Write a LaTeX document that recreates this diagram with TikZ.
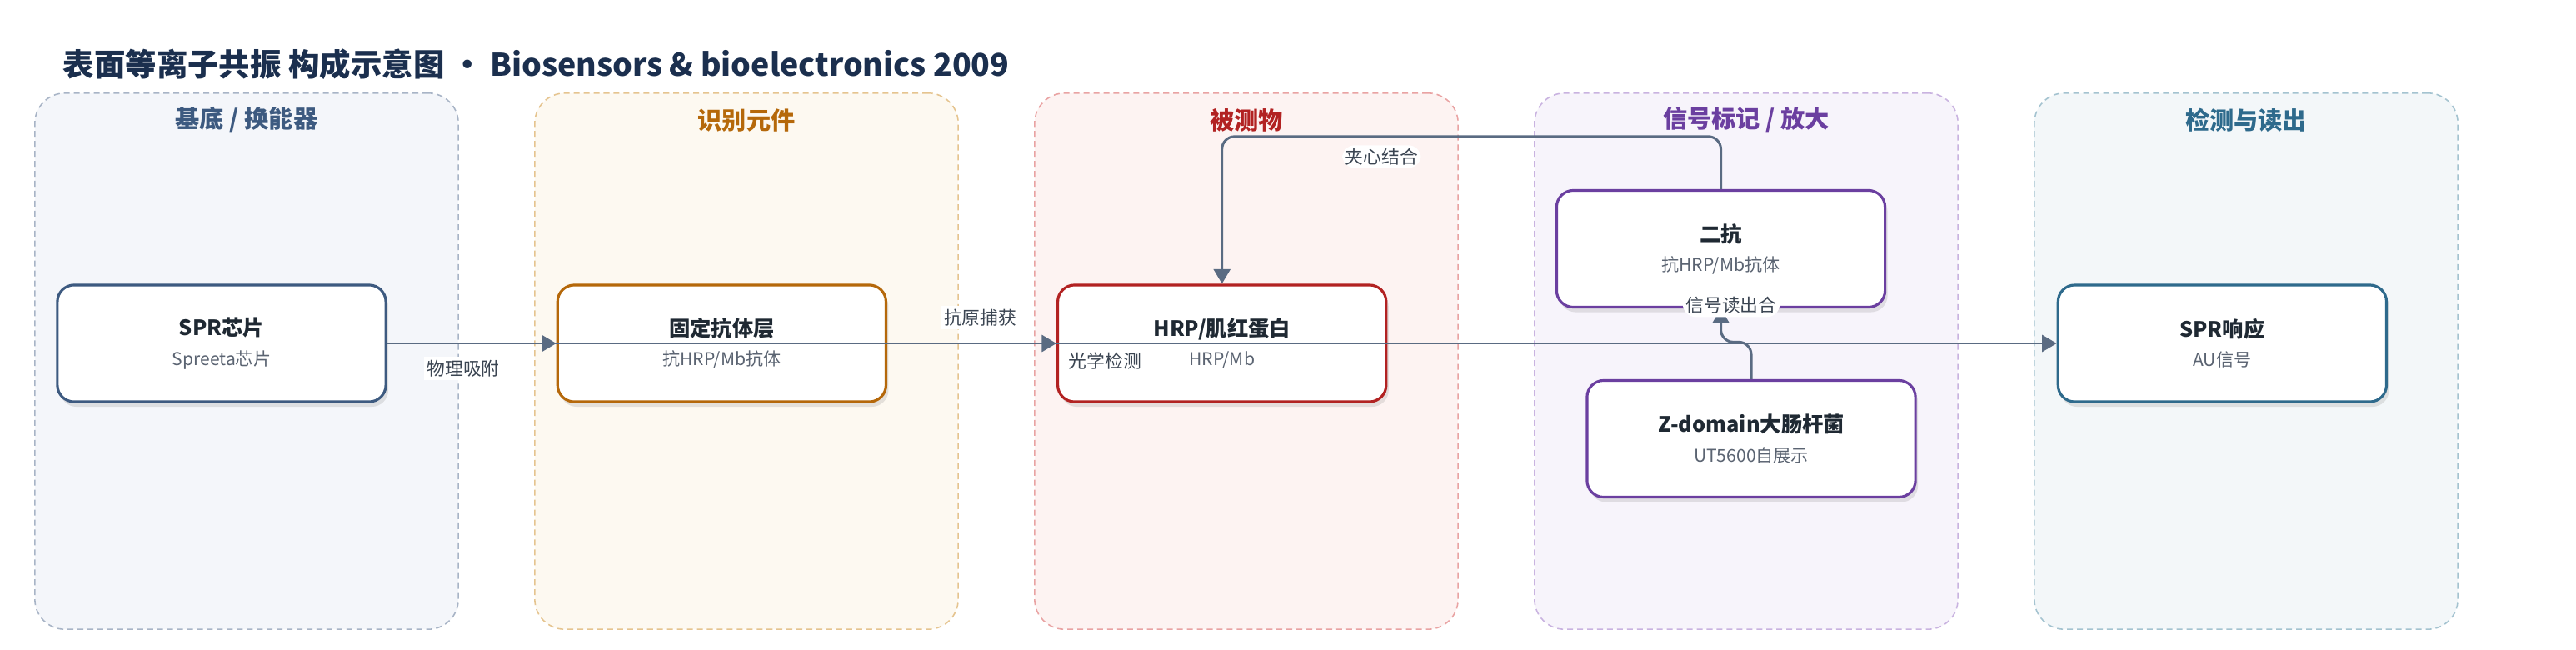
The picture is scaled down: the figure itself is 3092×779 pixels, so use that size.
\documentclass[tikz,border=0pt]{standalone}
\usepackage{fontspec}
\setmainfont{Noto Sans CJK SC}
\usepackage{xcolor}
\usepackage{tikz}
\usetikzlibrary{arrows.meta,shadows}

\definecolor{judulcol}{HTML}{1B2F4E}
\definecolor{inkdark}{HTML}{1F2933}
\definecolor{subgray}{HTML}{5B6472}
\definecolor{labelgray}{HTML}{3B4552}
\definecolor{edgegray}{HTML}{5A6B82}
\definecolor{bg1}{HTML}{F4F6FA}\definecolor{ln1}{HTML}{A8B4C6}\definecolor{tx1}{HTML}{3D5A80}
\definecolor{bg2}{HTML}{FDF9F1}\definecolor{ln2}{HTML}{E5C48F}\definecolor{tx2}{HTML}{B5680A}
\definecolor{bg3}{HTML}{FDF3F2}\definecolor{ln3}{HTML}{E9A3A3}\definecolor{tx3}{HTML}{B22222}
\definecolor{bg4}{HTML}{F7F4FB}\definecolor{ln4}{HTML}{C9B3E0}\definecolor{tx4}{HTML}{6B3FA0}
\definecolor{bg5}{HTML}{F3F7F9}\definecolor{ln5}{HTML}{A4C3D0}\definecolor{tx5}{HTML}{2E6A8C}

\tikzstyle{lane} = [rectangle, rounded corners=0.36cm, minimum width=5.08cm, minimum height=6.43cm, dash pattern=on 2pt off 1.4pt, line width=0.45pt]
\tikzstyle{lanetitle} = [font=\fontsize{8.3}{10}\selectfont\bfseries]
\tikzstyle{squared} = [rectangle, rounded corners=0.2cm, minimum width=3.94cm, minimum height=1.4cm, align=center, fill=white, line width=0.9pt, text=inkdark, font=\fontsize{6}{10}\selectfont, drop shadow={shadow xshift=0.03cm, shadow yshift=-0.06cm, opacity=0.2}]
\tikzstyle{connect} = [line width=0.85pt, draw=edgegray, -{Triangle[length=5pt,width=5.7pt]}]
\tikzstyle{caption} = [fill=white, inner sep=1pt, text=labelgray, font=\fontsize{6.2}{7}\selectfont]

\newcommand{\boxtext}[2]{{\fontsize{7.2}{10}\selectfont\bfseries #1}\\{\color{subgray}#2}}

\begin{document}
\begin{tikzpicture}[node distance=6cm, x=0.01cm, y=-0.01cm]
	\useasboundingbox (0,0) rectangle (3092,779);

	% judul gambar
	\node (judul) [anchor=west, inner sep=0pt, text=judulcol, font=\fontsize{10.65}{12}\selectfont\bfseries] at (75,77) {表面等离子共振 构成示意图 • Biosensors \& bioelectronics 2009};

	% kotak latar tiap kolom
	\node (lane1) [lane, fill=bg1, draw=ln1] at (296,433.5) {};
	\node (lane2) [lane, fill=bg2, draw=ln2] at (896,433.5) {};
	\node (lane3) [lane, fill=bg3, draw=ln3] at (1496,433.5) {};
	\node (lane4) [lane, fill=bg4, draw=ln4] at (2096,433.5) {};
	\node (lane5) [lane, fill=bg5, draw=ln5] at (2696,433.5) {};
	\node (head1) [lanetitle, text=tx1] at ([yshift=-0.33cm]lane1.north) {基底 / 换能器};
	\node (head2) [lanetitle, text=tx2] at ([yshift=-0.33cm]lane2.north) {识别元件};
	\node (head3) [lanetitle, text=tx3] at ([yshift=-0.33cm]lane3.north) {被测物};
	\node (head4) [lanetitle, text=tx4] at ([yshift=-0.33cm]lane4.north) {信号标记 / 放大};
	\node (head5) [lanetitle, text=tx5] at ([yshift=-0.33cm]lane5.north) {检测与读出};

	% node utama
	\node (chip) [squared, draw=tx1] at (266,412) {\boxtext{SPR芯片}{Spreeta芯片}};       % posisi acuan
	\node (ab) [squared, draw=tx2, right of=chip] {\boxtext{固定抗体层}{抗HRP/Mb抗体}};     % di kanan acuan
	\node (hrp) [squared, draw=tx3, right of=ab] {\boxtext{HRP/肌红蛋白}{HRP/Mb}};          % di kanan sebelumnya
	\node (resp) [squared, draw=tx5, right of=hrp, node distance=12cm] {\boxtext{SPR响应}{AU信号}};
	\node (er) [squared, draw=tx4] at (2065.5,298.5) {\boxtext{二抗}{抗HRP/Mb抗体}};
	\node (zd) [squared, draw=tx4] at (2102,526.5) {\boxtext{Z-domain大肠杆菌}{UT5600自展示}};

	% garis koneksi
	\draw [connect] (chip) -- node[caption, pos=0.45, yshift=-0.3cm] {物理吸附} (ab);
	\draw [connect] (ab) -- node[caption, pos=0.55, yshift=0.31cm] {抗原捕获} (hrp);
	\draw [connect] (chip) -- node[caption, pos=0.43, yshift=-0.21cm] {光学检测} (resp);
	\draw [connect, rounded corners=0.15cm] (er.north) -- ++(0,-63) -| node[caption, pos=0.34, yshift=-0.24cm] {夹心结合} (hrp.north);
	\draw [connect, rounded corners=0.15cm] (zd.north) -- ++(0,-44.5) -| node[caption, pos=1, xshift=0.125cm, yshift=0.035cm] {信号读出合} (er.south);
\end{tikzpicture}
\end{document}
